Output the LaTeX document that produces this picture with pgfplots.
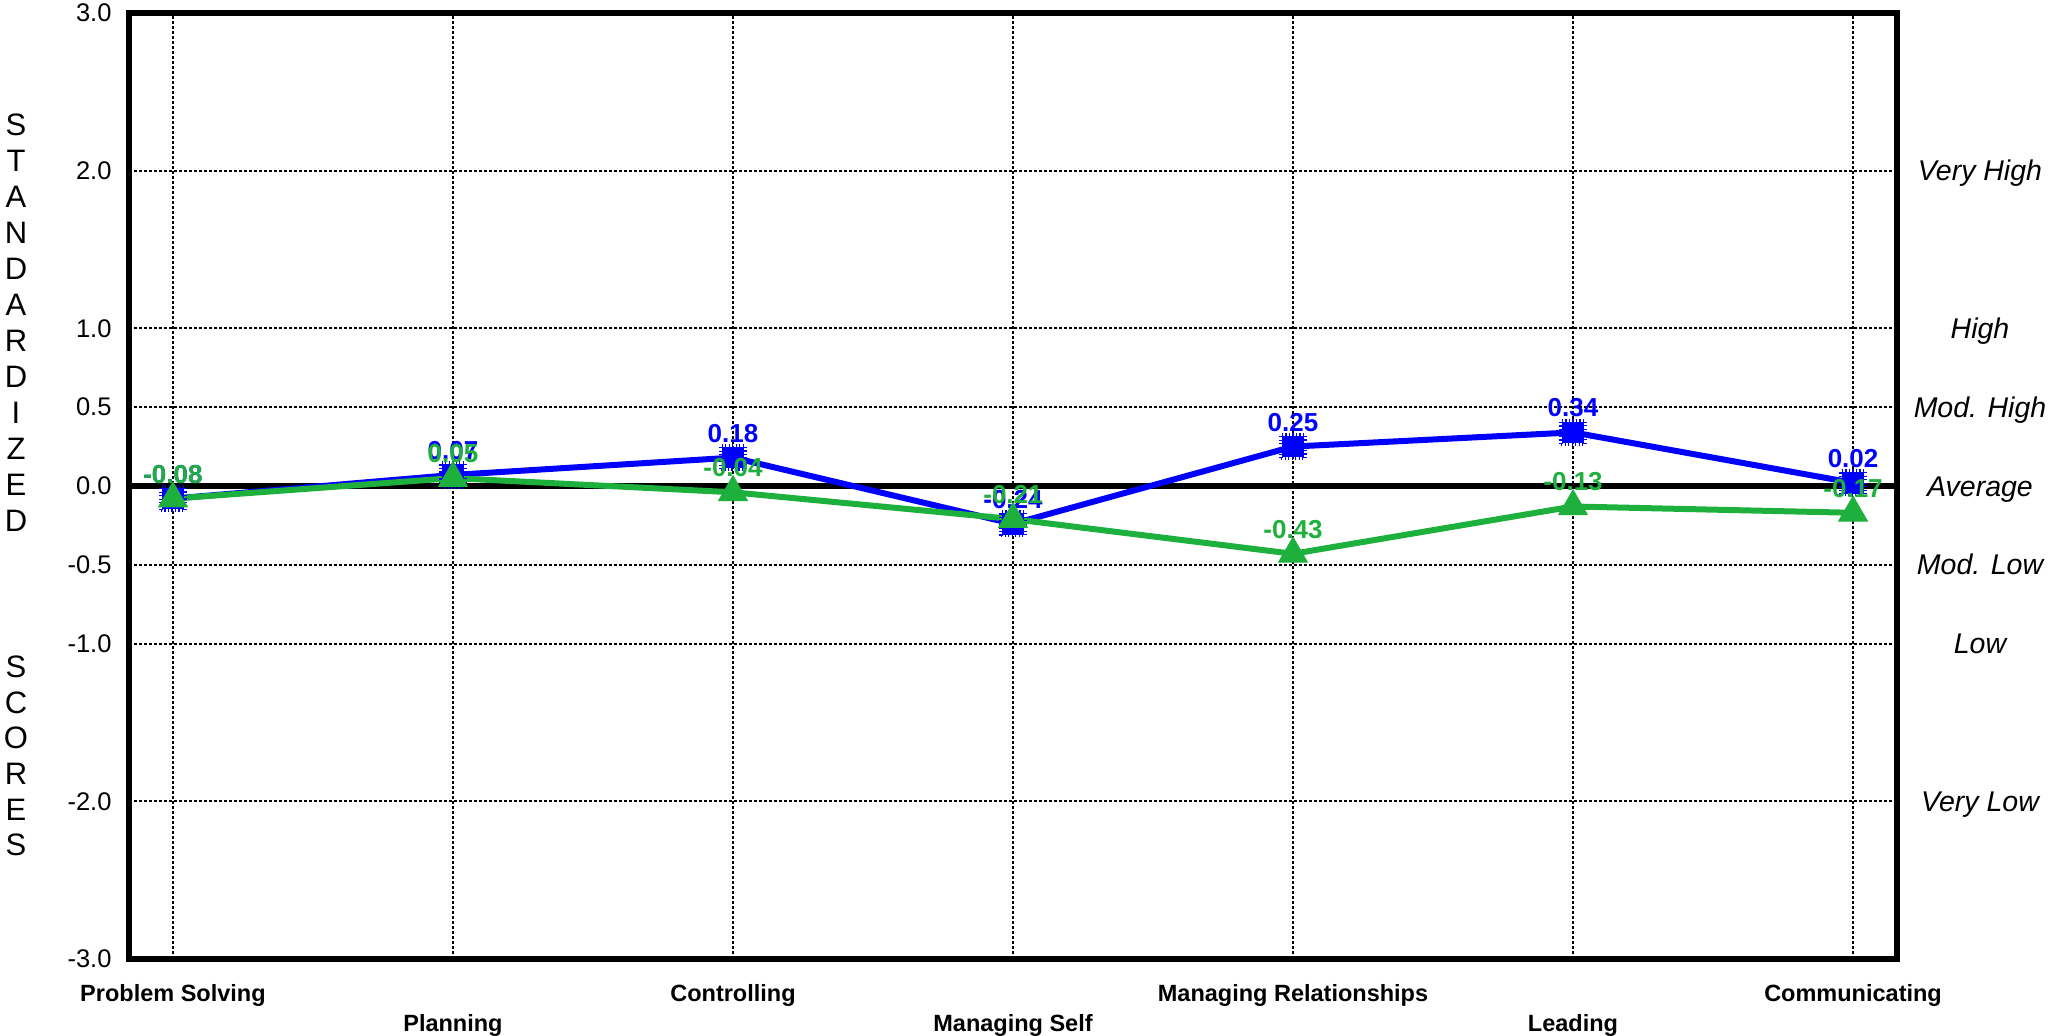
\documentclass[border=0pt]{standalone}
\usepackage{fontspec}
\setmainfont{Liberation Sans}
\usepackage{pgfplots}
\pgfplotsset{compat=1.18}
\pgfplotsset{/pgf/number format/assume math mode=true}

\definecolor{selfblue}{RGB}{0,0,255}
\definecolor{normgreen}{RGB}{30,176,60}

\newcommand{\ticksize}{\fontsize{10.2}{12}\selectfont}
\newcommand{\catsize}{\fontsize{9.4}{11}\selectfont\bfseries}
\newcommand{\valsize}{\fontsize{10.4}{12}\selectfont\bfseries}
\newcommand{\bandsize}{\fontsize{11.4}{13}\selectfont\itshape}
\newcommand{\lettersize}{\fontsize{12.4}{14}\selectfont}

\begin{document}
\begin{tikzpicture}
\useasboundingbox (-51.6pt,-30.8pt) rectangle (768pt,383.6pt);

\begin{axis}[
  scale only axis,
  width=707.2pt, height=378.4pt,
  at={(0pt,0pt)}, anchor=south west,
  xmin=-0.157, xmax=6.157,
  ymin=-3, ymax=3,
  xtick={0,1,2,3,4,5,6},
  xticklabels={Problem Solving,\raisebox{-12pt}{Planning},Controlling,\raisebox{-12pt}{Managing Self},Managing Relationships,\raisebox{-12pt}{Leading},Communicating},
  ytick={-3,-2,-1,-0.5,0,0.5,1,2,3},
  extra y ticks={0},
  extra y tick labels={},
  extra y tick style={grid=major, major grid style={black, solid, line width=2.2pt}},
  grid=major,
  major grid style={black, line width=0.7pt, dash pattern=on 1.2pt off 0.8pt},
  major tick length=0pt,
  axis line style={line width=2.4pt, line join=miter},
  xticklabel style={font=\catsize, anchor=base, inner sep=0pt, yshift=-17.2pt},
  yticklabel style={font=\ticksize, anchor=east, inner sep=0pt, xshift=-6.8pt,
    /pgf/number format/fixed, /pgf/number format/fixed zerofill,
    /pgf/number format/precision=1},
  clip=false,
  nodes near coords,
  point meta=y,
  every node near coord/.append style={font=\valsize, anchor=center, inner sep=0pt,
    yshift=9.8pt, /pgf/number format/fixed, /pgf/number format/fixed zerofill,
    /pgf/number format/precision=2},
]

% Self ratings
\addplot[selfblue, line width=2.4pt, mark=square*, mark size=4.1pt,
  mark options={solid, line width=0.4pt, fill=selfblue},
  every node near coord/.append style={text=selfblue}]
  coordinates {(0,-0.08) (1,0.07) (2,0.18) (3,-0.24) (4,0.25) (5,0.34) (6,0.02)};
% serrated rim of the self markers
\addplot[selfblue, only marks, mark=square, mark size=4.8pt,
  mark options={line width=1.3pt, dash pattern=on 0.5pt off 0.9pt},
  nodes near coords={}, forget plot]
  coordinates {(0,-0.08) (1,0.07) (2,0.18) (3,-0.24) (4,0.25) (5,0.34) (6,0.02)};

% Norm group
\addplot[normgreen, line width=2.4pt, mark=triangle*, mark size=6.6pt,
  mark options={solid, line width=0.4pt, fill=normgreen},
  every node near coord/.append style={text=normgreen}]
  coordinates {(0,-0.08) (1,0.05) (2,-0.04) (3,-0.21) (4,-0.43) (5,-0.13) (6,-0.17)};

\end{axis}

% band names on the right
\node[font=\bandsize, anchor=base] at (740.4pt,311.2pt) {Very High};
\node[font=\bandsize, anchor=base] at (740.4pt,248.2pt) {High};
\node[font=\bandsize, anchor=base] at (740.4pt,216.6pt) {Mod. High};
\node[font=\bandsize, anchor=base] at (740.4pt,185.1pt) {Average};
\node[font=\bandsize, anchor=base] at (740.4pt,153.6pt) {Mod. Low};
\node[font=\bandsize, anchor=base] at (740.4pt,122.0pt) {Low};
\node[font=\bandsize, anchor=base] at (740.4pt,59.0pt) {Very Low};

% stacked y-axis title
\foreach \ch [count=\i from 0] in {S,T,A,N,D,A,R,D,I,Z,E,D}
  \node[font=\lettersize, inner sep=0pt] at (-45.2pt,{333.6pt-14.4pt*\i}) {\ch};
\foreach \ch [count=\i from 0] in {S,C,O,R,E,S}
  \node[font=\lettersize, inner sep=0pt] at (-45.2pt,{116.8pt-14.24pt*\i}) {\ch};
\end{tikzpicture}
\end{document}
